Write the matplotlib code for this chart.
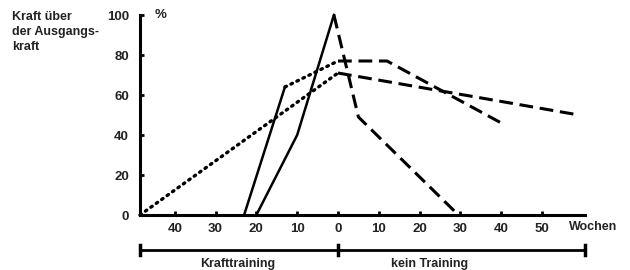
import matplotlib
matplotlib.use("Agg")
import matplotlib.pyplot as plt

plt.rcParams['font.family'] = ['Liberation Sans', 'DejaVu Sans']

# Data (weeks: negative = training period, positive = no training)
solid1_x = [-23, -13]
solid1_y = [0, 64]
dot1_x = [-13, 0]
dot1_y = [64, 77]
dash1_x = [0, 12, 40]
dash1_y = [77, 77, 46]

solid2_x = [-20, -10, -1]
solid2_y = [0, 40, 100]
dash2_x = [-1, 5, 29.5]
dash2_y = [100, 49, 0]

dot3_x = [-48.5, 0]
dot3_y = [0, 71]
dash3_x = [0, 59]
dash3_y = [71, 50]

xticks = [-40, -30, -20, -10, 0, 10, 20, 30, 40, 50]
xticklabels = ['40', '30', '20', '10', '0', '10', '20', '30', '40', '50']
yticks = [0, 20, 40, 60, 80, 100]

fig = plt.figure(figsize=(6.3, 2.7), dpi=100)
ax = fig.add_axes([140/630, 1-215/270, (585-140)/630, 200/270])
ax.set_xlim(-48.5, 60.5)
ax.set_ylim(0, 100)

lw = 1.8
ax.plot(solid1_x, solid1_y, color='black', lw=lw, clip_on=False)
ax.plot(solid2_x, solid2_y, color='black', lw=lw, clip_on=False)
ax.plot(dot1_x, dot1_y, color='black', lw=2.4, linestyle=(0, (0.5, 1.5)), dash_capstyle='round', clip_on=False)
ax.plot(dot3_x, dot3_y, color='black', lw=2.4, linestyle=(0, (0.5, 1.5)), dash_capstyle='round', clip_on=False)
for xs, ys in [(dash1_x, dash1_y), (dash2_x, dash2_y), (dash3_x, dash3_y)]:
    ax.plot(xs, ys, color='black', lw=2.2, linestyle=(0, (4.5, 2.2)), clip_on=False)

for s in ['top', 'right']:
    ax.spines[s].set_visible(False)
ax.spines['left'].set_linewidth(2.2)
ax.spines['bottom'].set_linewidth(2.2)

ax.set_xticks(xticks)
ax.set_xticklabels(xticklabels)
ax.set_yticks(yticks)
ax.tick_params(axis='both', direction='in', length=3, width=2, labelsize=9.5)
ax.tick_params(axis='x', pad=6)
ax.tick_params(axis='y', pad=8)
for lab in ax.get_xticklabels() + ax.get_yticklabels():
    lab.set_fontweight('bold')
    lab.set_color('#222222')

ax.text(-43.5, 100, '%', fontsize=9.5, fontweight='bold', va='center', ha='center', color='#222222')
ax.text(62.5, -6, 'Wochen', fontsize=9, fontweight='bold', va='center', ha='center',
        clip_on=False, color='#222222')

fig.text(12/630, 1-11/270, 'Kraft über\nder Ausgangs-\nkraft', fontsize=9, fontweight='bold',
         va='top', ha='left', linespacing=1.35, color='#222222')

# Period bars
ybar = -17.5
ax.plot([-48.5, 0], [ybar, ybar], color='black', lw=2, clip_on=False)
ax.plot([0, 60.5], [ybar, ybar], color='black', lw=2, clip_on=False)
for xe in [-48.5, 0, 60.5]:
    ax.plot([xe, xe], [ybar - 2.5, ybar + 2.5], color='black', lw=2.5, clip_on=False)
ax.text(-24.5, -24.5, 'Krafttraining', fontsize=9, fontweight='bold', ha='center', va='center',
        clip_on=False, color='#222222')
ax.text(22.5, -24.5, 'kein Training', fontsize=9, fontweight='bold', ha='center', va='center',
        clip_on=False, color='#222222')

fig.savefig('out.png', dpi=100)
